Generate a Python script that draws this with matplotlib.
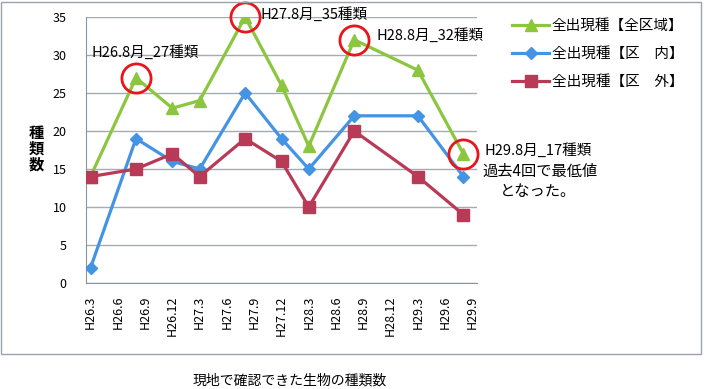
import matplotlib
matplotlib.use("Agg")
import matplotlib.pyplot as plt
from matplotlib.patches import Rectangle

plt.rcParams['font.family'] = ['Noto Sans CJK JP', 'DejaVu Sans']

# 月の位置 (H26.3 からの月数)
tick_labels = ['H26.3', 'H26.6', 'H26.9', 'H26.12', 'H27.3', 'H27.6', 'H27.9', 'H27.12',
               'H28.3', 'H28.6', 'H28.9', 'H28.12', 'H29.3', 'H29.6', 'H29.9']
tick_months = [0, 3, 6, 9, 12, 15, 18, 21, 24, 27, 30, 33, 36, 39, 42]

# 調査月 (H26.3, H26.8, H26.12, H27.3, H27.8, H27.12, H28.3, H28.8, H29.3, H29.8)
survey_months = [0, 5, 9, 12, 17, 21, 24, 29, 36, 41]
all_area = [14, 27, 23, 24, 35, 26, 18, 32, 28, 17]
inside = [2, 19, 16, 15, 25, 19, 15, 22, 22, 14]
outside = [14, 15, 17, 14, 19, 16, 10, 20, 14, 9]

# 丸で囲む点
circle_months = [5, 17, 29, 41]
circle_values = [27, 35, 32, 17]

green = '#8cc63f'
blue = '#4593e3'
red = '#b83a56'

W, H = 704, 389
fig = plt.figure(figsize=(W / 100, H / 100), dpi=100)
ax = fig.add_axes([86 / W, 1 - 283 / H, (477 - 86) / W, (283 - 17) / H])

ax.plot(survey_months, all_area, color=green, lw=2.3, marker='^', ms=8.5, label='全出現種【全区域】', zorder=3)
ax.plot(survey_months, inside, color=blue, lw=2.3, marker='D', ms=6, label='全出現種【区\u3000内】', zorder=3)
ax.plot(survey_months, outside, color=red, lw=2.3, marker='s', ms=9, label='全出現種【区\u3000外】', zorder=3)

ax.plot(circle_months, circle_values, ls='none', marker='o', ms=21, mfc='none', mec='#e8151b', mew=2,
        zorder=4, clip_on=False)

ax.set_xlim(-0.5, 42.5)
ax.set_ylim(0, 35)
ax.set_yticks(range(0, 36, 5))
ax.set_xticks(tick_months)
ax.set_xticklabels(tick_labels, rotation=90, fontsize=9)
ax.tick_params(axis='y', labelsize=9, length=0, pad=14)
ax.tick_params(axis='x', length=0, pad=9)
ax.grid(axis='y', color='#a3abb3', lw=1)
ax.set_axisbelow(True)
for s in ['top', 'right']:
    ax.spines[s].set_visible(False)
ax.spines['left'].set_color('#8c959e')
ax.spines['bottom'].set_color('#8c959e')

# 注記
ax.text(0.1, 30.4, 'H26.8月_27種類', fontsize=10.5, va='center', ha='left')
ax.text(18.7, 35.3, 'H27.8月_35種類', fontsize=10.5, va='center', ha='left')
ax.text(31.5, 32.6, 'H28.8月_32種類', fontsize=10.5, va='center', ha='left')
fig.text(485 / W, 1 - 150 / H, 'H29.8月_17種類', fontsize=10.5, va='center', ha='left')
fig.text(482 / W, 1 - 171 / H, '過去4回で最低値', fontsize=11, va='center', ha='left')
fig.text(538 / W, 1 - 191 / H, 'となった。', fontsize=11, va='center', ha='center')

fig.text(36 / W, 1 - 149 / H, '種\n類\n数', fontsize=11, fontweight='bold', va='center', ha='center',
         linespacing=1.0)

leg = ax.legend(loc='upper left', bbox_to_anchor=(505 / W, 1 - 12 / H), bbox_transform=fig.transFigure,
                frameon=False, fontsize=10.5, handlelength=2.5, labelspacing=0.95, handletextpad=0.2,
                borderpad=0)

# 外枠
fig.patches.append(Rectangle((1 / W, 1 - 354 / H), 700 / W, 352 / H, transform=fig.transFigure,
                             fill=False, edgecolor='#9aa3ab', lw=1))

fig.text(290 / W, 1 - 380 / H, '現地で確認できた生物の種類数', fontsize=10, ha='center', va='center')

fig.savefig('out.png', dpi=100)
